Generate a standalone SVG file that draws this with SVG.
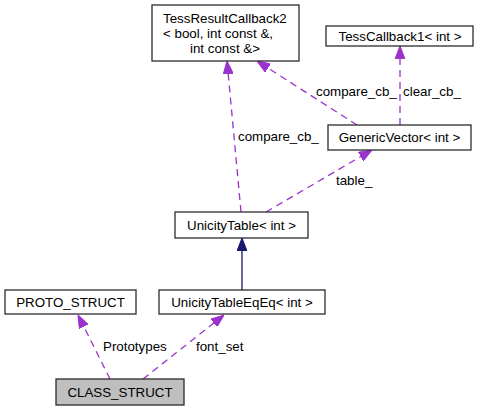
<svg xmlns="http://www.w3.org/2000/svg" width="479" height="411" viewBox="0 0 479 411">
<style>
  .box { fill: #ffffff; stroke: #2b2b2b; stroke-width: 1.3; }
  .main { fill: #bfbfbf; stroke: #2b2b2b; stroke-width: 1.3; }
  text { font-family: "Liberation Sans", Arial, sans-serif; font-size: 13.33px; fill: #000000; }
  .lbl { text-anchor: middle; }
  .use { fill: none; stroke: #9a32cd; stroke-width: 1.3; stroke-dasharray: 7,5; }
  .inh { fill: none; stroke: #191970; stroke-width: 1.3; }
</style>
<defs>
  <marker id="ap" markerUnits="userSpaceOnUse" markerWidth="13" markerHeight="10" refX="13" refY="5" orient="auto" viewBox="0 0 13 10">
    <path d="M0,0 L13,5 L0,10 z" fill="#9a32cd" stroke="#9a32cd" stroke-width="1"/>
  </marker>
  <marker id="ab" markerUnits="userSpaceOnUse" markerWidth="13" markerHeight="10" refX="13" refY="5" orient="auto" viewBox="0 0 13 10">
    <path d="M0,0 L13,5 L0,10 z" fill="#191970" stroke="#191970" stroke-width="1"/>
  </marker>
</defs>

<g id="connectors">
  <line class="use" x1="110" y1="379" x2="78" y2="315" marker-end="url(#ap)"/>
  <line class="use" x1="143" y1="379" x2="224" y2="315" marker-end="url(#ap)"/>
  <line class="inh" x1="242" y1="290" x2="242" y2="238" marker-end="url(#ab)"/>
  <line class="use" x1="241" y1="212" x2="227" y2="61" marker-end="url(#ap)"/>
  <line class="use" x1="266" y1="212" x2="372" y2="150" marker-end="url(#ap)"/>
  <line class="use" x1="357" y1="125" x2="257" y2="61" marker-end="url(#ap)"/>
  <line class="use" x1="400" y1="125" x2="400" y2="46" marker-end="url(#ap)"/>
  <text x="238" y="141">compare_cb_</text>
  <text x="316" y="96">compare_cb_</text>
  <text x="403" y="96">clear_cb_</text>
  <text x="336" y="185">table_</text>
  <text x="103" y="351">Prototypes</text>
  <text x="196" y="351">font_set</text>
</g>

<g id="TessResultCallback2">
  <rect class="box" x="152" y="5" width="147" height="56"/>
  <text x="163" y="22.5">TessResultCallback2</text>
  <text x="163" y="37.5">&lt; bool, int const &amp;,</text>
  <text x="190" y="52.5">int const &amp;&gt;</text>
</g>

<g id="TessCallback1">
  <rect class="box" x="326" y="26" width="147" height="20"/>
  <text class="lbl" x="400" y="40.5">TessCallback1&lt; int &gt;</text>
</g>

<g id="GenericVector">
  <rect class="box" x="328" y="125" width="143" height="25"/>
  <text class="lbl" x="399.5" y="142">GenericVector&lt; int &gt;</text>
</g>

<g id="UnicityTable">
  <rect class="box" x="175" y="212" width="133" height="26"/>
  <text class="lbl" x="241.5" y="229.5">UnicityTable&lt; int &gt;</text>
</g>

<g id="UnicityTableEqEq">
  <rect class="box" x="159" y="290" width="166" height="24"/>
  <text class="lbl" x="242" y="306.5">UnicityTableEqEq&lt; int &gt;</text>
</g>

<g id="PROTO_STRUCT">
  <rect class="box" x="5" y="290" width="131" height="24"/>
  <text class="lbl" x="70.5" y="306.5">PROTO_STRUCT</text>
</g>

<g id="CLASS_STRUCT">
  <rect class="main" x="56" y="379" width="128" height="26"/>
  <text class="lbl" x="120" y="396.5">CLASS_STRUCT</text>
</g>
</svg>
